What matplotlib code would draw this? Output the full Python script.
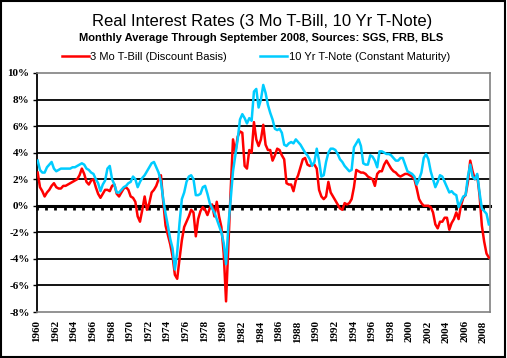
import numpy as np
import pandas as pd
import matplotlib
matplotlib.use('Agg')
from matplotlib import pyplot as plt
from matplotlib.patches import Rectangle

# quarterly real rates, 1960Q1 .. 2008Q3
quarters = pd.period_range('1960Q1', '2008Q3', freq='Q')

tbill_3mo = [
    2.5, 1.4, 1.1, 0.7,    1.0, 1.2, 1.5, 1.7,    1.4, 1.3, 1.3, 1.5,    # 60-62
    1.5, 1.6, 1.7, 1.8,    1.9, 2.0, 2.3, 2.8,    2.4, 1.8, 1.6, 1.9,    # 63-65
    2.0, 1.4, 0.9, 0.6,    0.9, 1.2, 1.2, 1.1,    1.5, 1.6, 0.9, 0.7,    # 66-68
    1.0, 1.3, 1.4, 1.2,    0.7, 0.6, 0.3, -0.8,   -1.2, -0.3, 0.7, -0.3, # 69-71
    0.2, 1.0, 1.2, 1.5,    2.0, 2.3, 0.3, -1.5,   -2.2, -2.9, -3.8, -5.2, # 72-74
    -5.5, -4.0, -2.6, -1.6, -1.2, -0.8, -0.3, -0.5, -2.3, -1.0, -0.4, -0.1, # 75-77
    -0.3, -0.7, -0.2, 0.1, -0.8, 0.3, -0.8, -1.6,  -3.6, -7.2, -3.0, 1.2,  # 78-80
    5.0, 4.0, 5.2, 5.6,    5.5, 3.0, 2.8, 4.2,    4.0, 6.3, 5.0, 4.5,    # 81-83
    5.0, 6.1, 4.6, 4.2,    4.2, 3.4, 3.8, 4.3,    4.2, 3.8, 3.5, 1.7,    # 84-86
    1.6, 1.6, 1.1, 1.9,    2.3, 2.9, 3.5, 3.6,    3.1, 3.0, 3.1, 3.1,    # 87-89
    2.8, 1.2, 0.7, 0.5,    0.7, 1.8, 1.0, 0.7,    0.4, 0.1, -0.2, -0.3,  # 90-92
    0.2, 0.1, 0.2, 0.5,    1.4, 2.7, 2.6, 2.5,    2.5, 2.4, 2.2, 2.1,    # 93-95
    2.0, 1.5, 2.4, 2.6,    2.6, 3.1, 3.4, 3.1,    2.8, 2.6, 2.5, 2.3,    # 96-98
    2.2, 2.3, 2.4, 2.4,    2.3, 2.2, 2.0, 1.3,    0.5, 0.2, 0.0, 0.0,    # 99-01
    0.0, -0.1, -0.5, -1.4, -1.7, -1.2, -1.2, -0.9, -0.9, -1.8, -1.3, -1.0, # 02-04
    -0.5, -1.0, 0.0, 0.6,  0.8, 1.8, 3.4, 2.6,    2.0, 2.3, 0.8, -1.5,   # 05-07
    -2.7, -3.6, -3.9,                                                    # 08
]

tnote_10yr = [
    3.4, 2.7, 2.5, 2.5,    2.9, 3.1, 3.3, 2.8,    2.6, 2.7, 2.8, 2.8,
    2.8, 2.8, 2.8, 2.9,    2.9, 3.0, 3.1, 3.2,    3.1, 2.8, 2.7, 2.5,
    2.4, 2.0, 1.7, 1.1,    1.6, 1.9, 2.8, 3.0,    2.0, 1.6, 1.0, 1.0,
    1.2, 1.4, 1.5, 1.7,    1.8, 2.2, 2.0, 1.4,    1.8, 2.1, 2.3, 2.6,
    2.9, 3.2, 3.3, 2.9,    2.5, 1.8, 0.5, -0.6,   -1.5, -2.5, -3.2, -4.8,
    -3.5, -1.3, 0.5, 1.0,  1.8, 2.2, 2.3, 2.0,    0.8, 0.8, 0.9, 1.4,
    1.5, 0.9, 0.2, -0.2,   -0.5, -1.0, -1.5, -2.0, -2.8, -4.4, -1.5, 0.5,
    2.6, 3.8, 5.0, 6.5,    6.9, 6.6, 6.2, 6.6,    6.4, 8.6, 8.8, 7.4,
    8.0, 9.1, 8.5, 7.6,    7.0, 6.5, 5.8, 5.7,    5.8, 5.5, 4.6, 4.5,
    4.7, 4.8, 4.7, 5.0,    4.8, 4.6, 4.3, 4.0,    3.8, 3.5, 3.0, 3.3,
    4.3, 3.4, 2.2, 2.3,    3.3, 4.0, 4.3, 4.3,    4.2, 3.9, 3.5, 3.3,
    3.0, 2.8, 2.6, 2.7,    4.4, 4.7, 5.0, 4.5,    3.2, 3.1, 3.1, 3.8,
    3.7, 3.4, 2.9, 4.1,    4.1, 4.0, 3.9, 3.9,    3.8, 3.6, 3.4, 3.4,
    3.6, 3.6, 3.1, 2.6,    2.5, 2.4, 2.2, 1.6,    2.0, 2.5, 3.6, 3.9,
    3.5, 2.6, 2.0, 1.4,    1.8, 2.3, 2.2, 1.8,    1.4, 1.0, 1.1, 0.9,
    0.8, -0.1, 0.3, 0.7,   0.8, 2.2, 3.1, 2.2,    2.0, 2.4, 1.0, -0.2,
    -0.4, -0.6, -1.4,
]

year_labels = [str(y) for y in range(1960, 2009, 2)]
y_ticks = list(range(-8, 11, 2))

# monthly category axis, Jan 1960 = 0 .. Sep 2008 = 584
n_months = 585
x = (quarters.year - 1960) * 12 + (quarters.quarter - 1) * 3 + 1

plt.rcParams['font.family'] = ['Liberation Sans', 'DejaVu Sans']

fig = plt.figure(figsize=(5.07, 3.58), dpi=100)
ax = fig.add_axes([36.5 / 507, 46 / 358, 453.5 / 507, 239 / 358])

ymin, ymax = -8, 10
ax.set_xlim(-0.5, n_months - 0.5)
ax.set_ylim(ymin, ymax)

for v in y_ticks[1:-1]:
    if v != 0:
        ax.axhline(v, color='black', lw=1.3, zorder=1)

l1, = ax.plot(x, tbill_3mo, color='#FF0000', lw=1.8, zorder=3,
              label='3 Mo T-Bill (Discount Basis)')
l2, = ax.plot(x, tnote_10yr, color='#00CCFF', lw=1.8, zorder=4,
              label='10 Yr T-Note (Constant Maturity)')

for side in ['top', 'right', 'bottom']:
    ax.spines[side].set_color('#808080')
    ax.spines[side].set_linewidth(1.2)
ax.spines['left'].set_color('black')
ax.spines['left'].set_linewidth(1.3)

ax.set_yticks(y_ticks)
ax.set_yticklabels([f'{v}%' for v in y_ticks])
ax.tick_params(axis='y', direction='out', length=3, width=1, pad=2)
for t in ax.get_yticklabels():
    t.set_family(['Liberation Serif'])
    t.set_fontweight('bold')
    t.set_fontsize(8)

ax.set_xticks(np.arange(0, n_months, 24))
ax.set_xticklabels(year_labels, rotation=90, va='top', ha='center')
ax.tick_params(axis='x', length=0, pad=6)
for t in ax.get_xticklabels():
    t.set_family(['Liberation Serif'])
    t.set_fontweight('bold')
    t.set_fontsize(8)

# zero line with yearly tick marks
zero_ax = ax.secondary_xaxis((0 - ymin) / (ymax - ymin))
zero_ax.spines['bottom'].set_color('black')
zero_ax.spines['bottom'].set_linewidth(2.2)
zero_ax.set_xticks(np.arange(0, n_months, 12))
zero_ax.set_xticklabels([])
zero_ax.tick_params(direction='out', length=3, width=2, color='black')

fig.text(262 / 507, 1 - 21.5 / 358, 'Real Interest Rates (3 Mo T-Bill, 10 Yr T-Note)',
         ha='center', va='center', fontsize=12)
fig.text(261.5 / 507, 1 - 38 / 358,
         'Monthly Average Through September 2008, Sources: SGS, FRB, BLS',
         ha='center', va='center', fontsize=8, fontweight='bold')

fig.legend(handles=[l1, l2], loc='center left', bbox_to_anchor=(62 / 507, 1 - 57 / 358),
           ncol=2, frameon=False, fontsize=8, handlelength=2.4, handletextpad=0.15,
           columnspacing=3.0, borderpad=0, borderaxespad=0)

fig.patches.append(Rectangle((0.001, 0.002), 0.996, 0.995, transform=fig.transFigure,
                             fill=False, edgecolor='black', lw=1.5))

fig.savefig('out.png', dpi=100)
